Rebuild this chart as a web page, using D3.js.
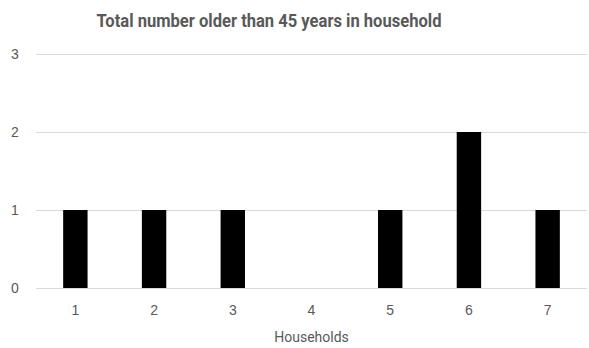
<!DOCTYPE html>
<html>
<head>
<meta charset="utf-8">
<script src="https://cdn.jsdelivr.net/npm/d3@7"></script>
<style>
  html, body { margin: 0; padding: 0; background: #fff; }
  svg { display: block; font-family: Roboto, "Noto Sans", sans-serif; }
</style>
</head>
<body>
<svg id="chart" width="589" height="348"></svg>
<script>
// Households and count of members older than 45
const households = ["1", "2", "3", "4", "5", "6", "7"];
const olderThan45 = [1, 1, 1, 0, 1, 2, 1];
const yTicks = [0, 1, 2, 3];
const titleText = "Total number older than 45 years in household";
const xAxisTitle = "Households";

const svg = d3.select("#chart");
const plot = { left: 36, right: 587, top: 54, bottom: 288 };

const x = d3.scaleBand()
  .domain(households)
  .range([plot.left, plot.right])
  .paddingInner(0.69)
  .paddingOuter(0.345);

const y = d3.scaleLinear()
  .domain([0, 3])
  .range([plot.bottom, plot.top]);

// Horizontal gridlines
svg.append("g")
  .selectAll("line")
  .data(yTicks)
  .join("line")
  .attr("x1", plot.left)
  .attr("x2", plot.right)
  .attr("y1", d => Math.round(y(d)) + 0.5)
  .attr("y2", d => Math.round(y(d)) + 0.5)
  .attr("stroke", "#d9d9d9")
  .attr("stroke-width", 1);

// Y axis labels
const yAxis = d3.axisLeft(y).tickValues(yTicks).tickFormat(d3.format("d")).tickSize(0).tickPadding(0);
const gy = svg.append("g")
  .attr("transform", `translate(${plot.left - 21},0)`)
  .call(yAxis);
gy.select(".domain").remove();
gy.selectAll("text")
  .attr("text-anchor", "middle")
  .attr("fill", "#595959")
  .style("font-size", "14px");

// Bars
svg.append("g")
  .selectAll("rect")
  .data(households.map((h, i) => ({ h, v: olderThan45[i] })))
  .join("rect")
  .attr("x", d => x(d.h))
  .attr("width", x.bandwidth())
  .attr("y", d => y(d.v))
  .attr("height", d => y(0) - y(d.v))
  .attr("fill", "#000");

// X axis labels
const xAxis = d3.axisBottom(x).tickSize(0).tickPadding(0);
const gx = svg.append("g")
  .attr("transform", `translate(0,${plot.bottom + 17})`)
  .call(xAxis);
gx.select(".domain").remove();
gx.selectAll("text")
  .attr("fill", "#595959")
  .style("font-size", "14px");

// X axis title
svg.append("text")
  .attr("x", (plot.left + plot.right) / 2)
  .attr("y", 342)
  .attr("text-anchor", "middle")
  .attr("fill", "#595959")
  .style("font-size", "14px")
  .text(xAxisTitle);

// Chart title
svg.append("text")
  .attr("x", 269)
  .attr("y", 27)
  .attr("text-anchor", "middle")
  .attr("fill", "#595959")
  .attr("font-weight", "bold")
  .attr("textLength", 345)
  .attr("lengthAdjust", "spacingAndGlyphs")
  .style("font-size", "18px")
  .text(titleText);
</script>
</body>
</html>
